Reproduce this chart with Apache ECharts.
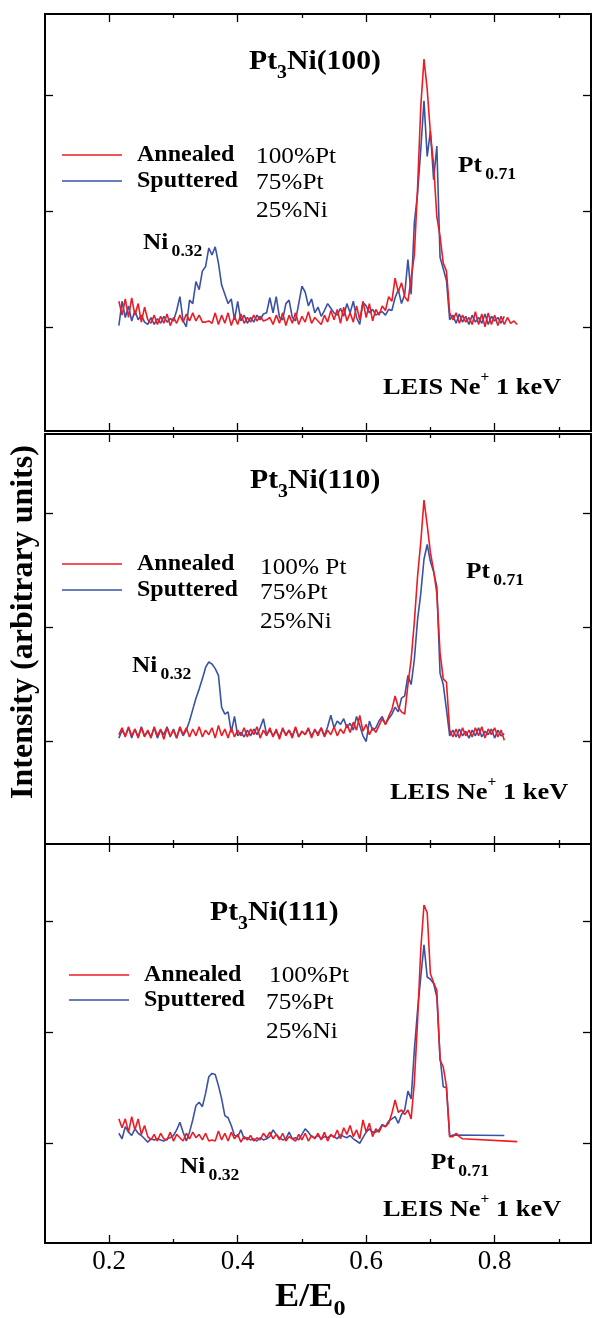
<!DOCTYPE html>
<html>
<head>
<meta charset="utf-8">
<script src="https://cdn.jsdelivr.net/npm/echarts@6/dist/echarts.min.js"></script>
<style>
html, body { margin: 0; padding: 0; background: #fff; }
#main { width: 592px; height: 1318px; }
</style>
</head>
<body>
<div id="main"></div>
<script>
// spectra are sampled on E/E0 = 0.215, 0.220, ... (step 0.005)
var E_START = 0.215, E_STEP = 0.005;

// Pt3Ni(100)
var annealed100 = [
  0.22, 0.10, 0.24, 0.08, 0.25, 0.10, 0.20, 0.04, 0.17, 0.06,
  0.03, 0.10, 0.02, 0.09, 0.03, 0.11, 0.01, 0.08, 0.03, 0.10,
  0.04, 0.11, 0.05, 0.12, 0.05, 0.10, 0.04, 0.04, 0.05, 0.03,
  0.12, 0.02, 0.10, 0.03, 0.12, 0.01, 0.09, 0.02, 0.11, 0.03,
  0.08, 0.04, 0.10, 0.05, 0.09, 0.05, 0.06, 0.08, 0.02, 0.10,
  0.03, 0.12, 0.01, 0.10, 0.03, 0.12, 0.02, 0.09, 0.04, 0.13,
  0.03, 0.08, 0.05, 0.02, 0.10, 0.04, 0.14, 0.06, 0.15, 0.03,
  0.17, 0.05, 0.12, 0.04, 0.18, 0.06, 0.22, 0.08, 0.20, 0.05,
  0.15, 0.10, 0.18, 0.14, 0.26, 0.22, 0.42, 0.30, 0.38, 0.26,
  0.22, 0.42, 0.62, 1.20, 1.90, 2.31, 2.05, 1.67, 1.40, 0.95,
  0.78, 0.55, 0.48, 0.12, 0.06, 0.12, 0.03, 0.10, 0.04, 0.08,
  0.02, 0.13, 0.02, 0.11, 0.00, 0.12, 0.02, 0.10, 0.01, 0.09,
  0.02, 0.08, 0.03, 0.05, 0.02
];
var sputtered100 = [
  0.01, 0.22, 0.08, 0.18, 0.05, 0.14, 0.06, 0.10, 0.04, 0.02,
  0.08, 0.02, 0.07, 0.03, 0.09, 0.04, 0.07, 0.05, 0.14, 0.26,
  0.05, 0.00, 0.23, 0.20, 0.39, 0.32, 0.48, 0.52, 0.68, 0.62,
  0.69, 0.55, 0.36, 0.28, 0.20, 0.24, 0.06, 0.22, 0.05, 0.10,
  0.03, 0.08, 0.04, 0.10, 0.06, 0.11, 0.12, 0.25, 0.12, 0.26,
  0.08, 0.06, 0.20, 0.23, 0.08, 0.05, 0.20, 0.35, 0.30, 0.18,
  0.24, 0.12, 0.17, 0.09, 0.14, 0.20, 0.16, 0.12, 0.10, 0.16,
  0.09, 0.20, 0.12, 0.22, 0.08, 0.02, 0.21, 0.18, 0.12, 0.15,
  0.10, 0.12, 0.13, 0.10, 0.15, 0.14, 0.25, 0.32, 0.20, 0.28,
  0.58, 0.28, 0.90, 1.15, 1.53, 1.95, 1.47, 1.69, 1.27, 1.56,
  0.60, 0.50, 0.40, 0.06, 0.10, 0.03, 0.11, 0.04, 0.09, 0.02,
  0.10, 0.04, 0.08, 0.03, 0.11, 0.02, 0.09, 0.05, 0.08, 0.03,
  0.09
];

// Pt3Ni(110)
var annealed110 = [
  0.06, 0.12, 0.04, 0.13, 0.05, 0.11, 0.03, 0.12, 0.04, 0.10,
  0.03, 0.13, 0.05, 0.11, 0.02, 0.12, 0.05, 0.10, 0.03, 0.13,
  0.06, 0.12, 0.04, 0.11, 0.05, 0.13, 0.04, 0.10, 0.06, 0.12,
  0.03, 0.14, 0.05, 0.11, 0.03, 0.12, 0.04, 0.10, 0.05, 0.12,
  0.04, 0.11, 0.06, 0.13, 0.03, 0.10, 0.05, 0.12, 0.04, 0.11,
  0.02, 0.12, 0.05, 0.10, 0.03, 0.13, 0.04, 0.09, 0.06, 0.12,
  0.03, 0.11, 0.05, 0.12, 0.04, 0.10, 0.06, 0.13, 0.05, 0.11,
  0.07, 0.15, 0.08, 0.17, 0.10, 0.23, 0.09, 0.15, 0.06, 0.12,
  0.08, 0.14, 0.20, 0.15, 0.22, 0.28, 0.40, 0.30, 0.26, 0.24,
  0.50, 0.72, 1.05, 1.45, 1.75, 2.12, 1.90, 1.66, 1.50, 1.30,
  0.78, 0.55, 0.52, 0.10, 0.04, 0.11, 0.03, 0.12, 0.05, 0.10,
  0.04, 0.12, 0.05, 0.13, 0.03, 0.11, 0.06, 0.12, 0.04, 0.10,
  0.01
];
var sputtered110 = [
  0.03, 0.10, 0.05, 0.12, 0.03, 0.11, 0.04, 0.13, 0.05, 0.09,
  0.04, 0.12, 0.03, 0.10, 0.06, 0.13, 0.04, 0.11, 0.03, 0.12,
  0.05, 0.10, 0.18, 0.28, 0.38, 0.46, 0.55, 0.65, 0.70, 0.68,
  0.64, 0.58, 0.30, 0.24, 0.26, 0.08, 0.22, 0.05, 0.08, 0.04,
  0.10, 0.05, 0.11, 0.06, 0.12, 0.20, 0.06, 0.10, 0.05, 0.09,
  0.04, 0.11, 0.06, 0.10, 0.05, 0.12, 0.04, 0.09, 0.06, 0.11,
  0.05, 0.10, 0.07, 0.12, 0.05, 0.13, 0.23, 0.12, 0.18, 0.15,
  0.20, 0.12, 0.16, 0.10, 0.22, 0.14, 0.05, 0.00, 0.18, 0.10,
  0.12, 0.18, 0.22, 0.15, 0.20, 0.24, 0.30, 0.26, 0.38, 0.40,
  0.58, 0.50, 0.72, 1.07, 1.30, 1.60, 1.73, 1.58, 1.49, 1.36,
  0.60, 0.50, 0.28, 0.05, 0.10, 0.04, 0.11, 0.05, 0.09, 0.03,
  0.10, 0.05, 0.12, 0.04, 0.09, 0.06, 0.11, 0.03, 0.10, 0.05,
  0.07
];

// Pt3Ni(111) - the tails were recorded with only an end point (null = no sample)
var annealed111 = [
  0.22, 0.14, 0.22, 0.10, 0.24, 0.12, 0.22, 0.08, 0.16, 0.06,
  0.03, 0.08, 0.02, 0.09, 0.04, 0.03, 0.10, 0.02, 0.08, 0.05,
  0.02, 0.09, 0.04, 0.10, 0.05, 0.08, 0.03, 0.09, 0.02, 0.03,
  0.02, 0.11, 0.03, 0.09, 0.02, 0.10, 0.04, 0.08, 0.01, 0.06,
  0.03, 0.07, 0.02, 0.05, 0.03, 0.09, 0.05, 0.10, 0.04, 0.08,
  0.03, 0.09, 0.02, 0.06, 0.04, 0.02, 0.08, 0.03, 0.09, 0.02,
  0.07, 0.04, 0.09, 0.03, 0.10, 0.02, 0.08, 0.05, 0.12, 0.04,
  0.14, 0.08, 0.16, 0.06, 0.12, 0.04, 0.21, 0.10, 0.18, 0.06,
  0.13, 0.10, 0.16, 0.15, 0.18, 0.27, 0.39, 0.28, 0.30, 0.26,
  0.30, 0.22, 0.55, 1.10, 1.75, 2.15, 2.08, 1.53, 1.45, 1.38,
  0.75, 0.69, 0.51, 0.06, 0.06, 0.09, 0.06, 0.04, null, null,
  null, null, null, null, null, null, null, null, null, null,
  null, null, null, null, 0.015
];
var sputtered111 = [
  0.09, 0.04, 0.15, 0.10, 0.07, 0.13, 0.09, 0.07, 0.04, 0.01,
  0.04, 0.03, 0.04, 0.03, 0.02, 0.04, 0.05, 0.07, 0.12, 0.19,
  0.10, 0.02, 0.10, 0.21, 0.34, 0.37, 0.33, 0.45, 0.60, 0.63,
  0.62, 0.52, 0.40, 0.25, 0.23, 0.16, 0.07, 0.06, 0.12, 0.04,
  0.05, 0.03, 0.04, 0.02, 0.05, 0.03, 0.04, 0.06, 0.12, 0.08,
  0.05, 0.03, 0.04, 0.10, 0.04, 0.05, 0.03, 0.08, 0.13, 0.10,
  0.06, 0.05, 0.07, 0.04, 0.06, 0.05, 0.07, 0.06, 0.04, 0.08,
  0.06, 0.05, 0.07, 0.04, 0.02, 0.00, 0.05, 0.10, 0.13, 0.10,
  0.10, 0.12, 0.17, 0.15, 0.20, 0.22, 0.24, 0.18, 0.26, 0.30,
  0.47, 0.40, 0.84, 1.20, 1.50, 1.79, 1.50, 1.48, 1.44, 1.32,
  0.78, 0.51, 0.50, 0.06, 0.075, null, null, null, null, null,
  null, null, null, null, null, null, null, null, null, null,
  0.07
];

var xMajorTicks = [0.2, 0.4, 0.6, 0.8];
var xMinorTicks = [0.3, 0.5, 0.7, 0.9];
var yTicks = [0, 1, 2];
var facets = ['100', '110', '111'];

var RED = '#ec1c24';
var BLUE = '#3a52a3';
var serif = 'Liberation Serif';

function toPairs(arr) {
  var out = [];
  arr.forEach(function (v, i) {
    if (v !== null) out.push([+(E_START + i * E_STEP).toFixed(3), v]);
  });
  return out;
}

var panels = [
  { top: 14,  height: 417, red: annealed100, blue: sputtered100, legLeft: 62, legTop: 143, legGap: 2 },
  { top: 434, height: 410, red: annealed110, blue: sputtered110, legLeft: 62, legTop: 552, legGap: 2 },
  { top: 844, height: 399, red: annealed111, blue: sputtered111, legLeft: 69, legTop: 963, legGap: 1 }
];

var grids = [], xAxes = [], yAxes = [], series = [], legends = [];
var tickLine = { color: '#000', width: 1.3 };
var boxLine = { color: '#000', width: 2 };

panels.forEach(function (p, k) {
  grids.push({ left: 45, right: 1, top: p.top, height: p.height, outerBoundsMode: 'none' });

  ['bottom', 'top'].forEach(function (pos) {
    xAxes.push({
      gridIndex: k, type: 'value', position: pos, min: 0.1, max: 0.95,
      axisLine: { show: true, onZero: false, lineStyle: boxLine },
      axisTick: { show: true, inside: true, length: 8, customValues: xMajorTicks, lineStyle: tickLine },
      axisLabel: (pos === 'bottom' && k === 2)
        ? { show: true, customValues: xMajorTicks, margin: 5, fontFamily: serif, fontSize: 27, color: '#000' }
        : { show: false },
      splitLine: { show: false }
    });
    xAxes.push({
      gridIndex: k, type: 'value', position: pos, min: 0.1, max: 0.95,
      axisLine: { show: false, onZero: false },
      axisTick: { show: true, inside: true, length: 4, customValues: xMinorTicks, lineStyle: tickLine },
      axisLabel: { show: false },
      splitLine: { show: false }
    });
  });

  ['left', 'right'].forEach(function (pos) {
    yAxes.push({
      gridIndex: k, type: 'value', position: pos, min: -0.9, max: 2.7,
      axisLine: { show: true, onZero: false, lineStyle: boxLine },
      axisTick: { show: true, inside: true, length: 8, customValues: yTicks, lineStyle: tickLine },
      axisLabel: { show: false },
      splitLine: { show: false }
    });
  });

  var common = {
    type: 'line', xAxisIndex: 4 * k, yAxisIndex: 2 * k,
    symbol: 'none', showSymbol: false, silent: true, animation: false
  };
  series.push(Object.assign({}, common, {
    name: 'Sputtered', data: toPairs(p.blue),
    color: BLUE, lineStyle: { color: BLUE, width: 1.6 }
  }));
  series.push(Object.assign({}, common, {
    name: 'Annealed', data: toPairs(p.red),
    color: RED, lineStyle: { color: RED, width: 1.6 }
  }));

  legends.push({
    left: p.legLeft, top: p.legTop, orient: 'vertical', padding: 0,
    data: ['Annealed', 'Sputtered'], selectedMode: false,
    icon: 'rect', itemWidth: 60, itemHeight: 1.6, itemGap: p.legGap,
    textStyle: { fontFamily: serif, fontWeight: 'bold', fontSize: 24, lineHeight: 24, color: '#000', padding: [0, 0, 0, 10] }
  });
});

// text helpers
function txt(x, y, text, rich, extra) {
  var el = {
    type: 'text', x: x, y: y, scaleX: 1.1, silent: true, z: 100,
    style: {
      text: text, rich: rich, fill: '#000', fontFamily: serif,
      align: 'left', verticalAlign: 'middle', textAlign: 'left', textVerticalAlign: 'middle'
    }
  };
  return Object.assign(el, extra || {});
}
var titleRich = {
  m: { fontFamily: serif, fontWeight: 'bold', fontSize: 27, lineHeight: 40, fill: '#000' },
  s: { fontFamily: serif, fontWeight: 'bold', fontSize: 18, lineHeight: 18, verticalAlign: 'bottom', fill: '#000' }
};
var peakRich = {
  m: { fontFamily: serif, fontWeight: 'bold', fontSize: 23, lineHeight: 34, fill: '#000' },
  s: { fontFamily: serif, fontWeight: 'bold', fontSize: 16, lineHeight: 16, verticalAlign: 'bottom', padding: [0, 0, 0, 3], fill: '#000' }
};
var leisRich = {
  m: { fontFamily: serif, fontWeight: 'bold', fontSize: 24, lineHeight: 35, fill: '#000' },
  p: { fontFamily: serif, fontWeight: 'bold', fontSize: 14, lineHeight: 14, verticalAlign: 'top', fill: '#000' }
};
var pctRich = {
  m: { fontFamily: serif, fontSize: 23, lineHeight: 26, fill: '#000' }
};
var axisRich = {
  m: { fontFamily: serif, fontWeight: 'bold', fontSize: 33, lineHeight: 47, fill: '#000' },
  s: { fontFamily: serif, fontWeight: 'bold', fontSize: 22, lineHeight: 22, verticalAlign: 'bottom', fill: '#000' }
};

var textLayout = [
  { title: [249, 62],  pct: [[256, 157, '100%Pt'], [256, 183, '75%Pt'], [256, 211, '25%Ni']],
    pt: [458, 166], ni: [143, 243], leis: [383, 388] },
  { title: [250, 481], pct: [[260, 568, '100% Pt'], [260, 593, '75%Pt'], [260, 622, '25%Ni']],
    pt: [466, 572], ni: [132, 666], leis: [390, 793] },
  { title: [210, 913], pct: [[269, 976, '100%Pt'], [266, 1003, '75%Pt'], [266, 1032, '25%Ni']],
    pt: [431, 1163], ni: [180, 1167], leis: [383, 1210] }
];

var graphics = [];
textLayout.forEach(function (t, k) {
  graphics.push(txt(t.title[0], t.title[1], '{m|Pt}{s|3}{m|Ni(' + facets[k] + ')}', titleRich));
  t.pct.forEach(function (q) { graphics.push(txt(q[0], q[1], '{m|' + q[2] + '}', pctRich)); });
  graphics.push(txt(t.pt[0], t.pt[1], '{m|Pt}{s|0.71}', peakRich));
  graphics.push(txt(t.ni[0], t.ni[1], '{m|Ni}{s|0.32}', peakRich));
  graphics.push(txt(t.leis[0], t.leis[1], '{m|LEIS Ne}{p|+}{m| 1 keV}', leisRich));
});
graphics.push(txt(275, 1297, '{m|E/E}{s|0}', axisRich));
graphics.push({
  type: 'text', x: 24, y: 622, rotation: Math.PI / 2, silent: true, z: 100,
  style: {
    text: 'Intensity (arbitrary units)', fill: '#000',
    fontFamily: serif, fontWeight: 'bold', fontSize: 32,
    align: 'center', verticalAlign: 'middle', textAlign: 'center', textVerticalAlign: 'middle'
  }
});

var myChart = echarts.init(document.getElementById('main'));
var option = {
  backgroundColor: '#fff',
  animation: false,
  grid: grids,
  xAxis: xAxes,
  yAxis: yAxes,
  legend: legends,
  series: series,
  graphic: graphics
};
myChart.setOption(option);
</script>
</body>
</html>
